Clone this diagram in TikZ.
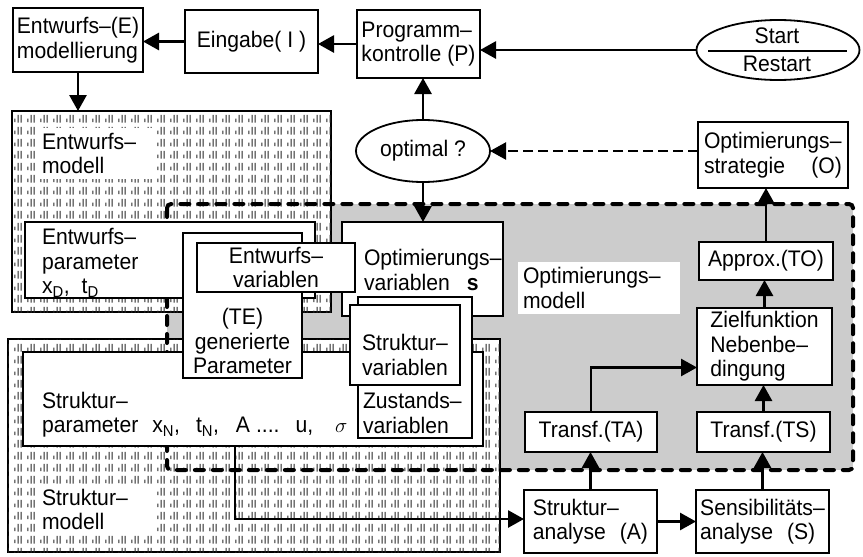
\documentclass[tikz,border=0pt]{standalone}
\usepackage{fontspec}
\setmainfont{Liberation Sans}[FakeStretch=0.94]
\usetikzlibrary{arrows.meta,shapes.geometric,patterns.meta,calc}

\tikzdeclarepattern{
  name=ticks,
  type=uncolored,
  bottom left={(0pt,0pt)},
  top right={(13pt,11.5pt)},
  tile size={(13pt,11.5pt)},
  code={
    \tikzset{line width=1.7pt}
    \draw (2pt,2pt) -- (2pt,5.5pt);
    \draw (5.5pt,1.5pt) -- (5.5pt,9.5pt);
    \draw (8.8pt,1.5pt) -- (8.8pt,9.5pt);
  }
}

\begin{document}
\begin{tikzpicture}[x=1pt,y=-1pt,
  every node/.style={font=\fontsize{22.5pt}{24.5pt}\selectfont, inner sep=0pt, outer sep=0pt},
  box/.style={draw, line width=1.8pt, fill=white, rectangle},
  arr/.style={line width=2.8pt, -{Triangle[length=16pt,width=17pt]}},
  darr/.style={line width=2.2pt, dash pattern=on 10pt off 5pt, -{Triangle[length=16pt,width=17pt]}},
  dashbord/.style={line width=4pt, dash pattern=on 9pt off 9pt, line cap=round, rounded corners=4pt},
  txbox/.style={draw, line width=2.2pt, fill=white, rectangle, postaction={pattern=ticks, pattern color=black!85}},
  lbl/.style={fill=white, align=left, inner xsep=5pt, inner ysep=5pt},
  txt/.style={align=left}
]
\useasboundingbox (0,0) rectangle (863,557);

% Optimierungsmodell region (gray)
\node[fill=black!20, minimum width=686pt, minimum height=266pt] (OM) at (510,337) {};

% textured models
\node[txbox, minimum width=319pt, minimum height=201pt] (EM) at (171.5,211.5) {};
\node[txbox, minimum width=492pt, minimum height=213pt] (SM) at (254,445.5) {};
\node[lbl, anchor=west, text width=108pt] (EMl) at (37,153.5) {Entwurfs–\\modell};
\node[lbl, anchor=west, text width=108pt] (SMl) at (37,509.5) {Struktur–\\modell};
\node[lbl, anchor=west, text width=152pt] (OMl) at (518,288) {Optimierungs–\\modell};

% dashed border of Optimierungsmodell
\draw[dashbord] (OM.north west) rectangle (OM.south east);

% inner boxes
\node[box, minimum width=290pt, minimum height=76pt] (EP) at (170,260) {};
\node[txt, anchor=west] (EPt) at (42,263) {Entwurfs–\\parameter\\x\textsubscript{D},\hspace{12pt}t\textsubscript{D}};
\node[box, minimum width=460pt, minimum height=94pt] (SP) at (253,399) {};
\node[txt, anchor=west] (SPt) at (42,414.5) {Struktur–\\parameter\hspace{14pt}x\textsubscript{N},\hspace{16pt}t\textsubscript{N},\hspace{17pt}A\hspace{6pt}....\hspace{16pt}u,\hspace{22pt}$\sigma$};
\node[box, minimum width=161pt, minimum height=94pt] (OV) at (422.5,269) {};
\node[txt, anchor=west] (OVt) at (364,270) {Optimierungs–\\variablen\hspace{17pt}\textbf{s}};
\node[box, minimum width=119pt, minimum height=145pt] (TE) at (242.5,305.5) {};
\node[align=center] (TEt) at (242.5,341) {(TE)\\generierte\\Parameter};
\node[box, align=center, minimum width=158pt, minimum height=49pt] (EV) at (276,267.5) {Entwurfs–\\variablen};
\node[box, minimum width=114pt, minimum height=141pt] (ZV) at (415,367.5) {};
\node[txt, anchor=west] (ZVt) at (363,413) {Zustands–\\variablen};
\node[box, minimum width=110pt, minimum height=80pt] (SV) at (405,345) {};
\node[align=center] (SVt) at (405,355) {Struktur–\\variablen};

% top row
\node[box, align=left, minimum width=130pt, minimum height=64pt] (E) at (78,40) {Entwurfs–(E)\\modellierung};
\node[box, minimum width=133pt, minimum height=63pt] (I) at (251.5,41.5) {Eingabe( I )};
\node[box, align=left, minimum width=123pt, minimum height=68pt] (P) at (418.5,44) {Programm–\\kontrolle\hspace{6pt}(P)};
\node[draw, ellipse, line width=1.8pt, fill=white, minimum width=163pt, minimum height=60pt] (start) at (778,50) {};
\node (st) at (777,36) {Start};
\node (rst) at (777,64) {Restart};
\draw[line width=1.6pt] ([xshift=-70pt,yshift=-1pt]start.center) -- ([xshift=69pt,yshift=-1pt]start.center);

\node[draw, ellipse, line width=1.8pt, fill=white, minimum width=134pt, minimum height=62pt] (opt) at (423,151) {optimal ?};
\node[box, align=left, text width=138pt, minimum width=150pt, minimum height=66pt] (O) at (773,155) {Optimierungs–\\strategie\hfill(O)};

% right column
\node[box, minimum width=134pt, minimum height=38pt] (Ap) at (766,261) {Approx.(TO)};
\node[box, align=left, minimum width=135pt, minimum height=77pt] (Z) at (764.5,346.5) {Zielfunktion\\Nebenbe–\\dingung};
\node[box, minimum width=133pt, minimum height=40pt] (TS) at (763.5,432) {Transf.(TS)};
\node[box, minimum width=132pt, minimum height=40pt] (TA) at (591,432) {Transf.(TA)};
\node[box, align=left, minimum width=133pt, minimum height=63pt] (A) at (590.5,521.5) {Struktur–\\analyse\hspace{14pt}(A)};
\node[box, align=left, minimum width=133pt, minimum height=63pt] (S) at (762.5,521.5) {Sensibilitäts–\\analyse\hspace{14pt}(S)};

% connectors
\draw[arr] (start.west) -- (start.west -| P.east);
\draw[arr] (P.west) -- (P.west -| I.east);
\draw[arr] (I.west) -- (I.west -| E.east);
\draw[arr] (E.south) -- (E.south |- EM.north);
\draw[arr] (opt.north) -- (opt.north |- P.south);
\draw[arr] (opt.south) -- (opt.south |- OV.north);
\draw[darr] (O.west |- opt.east) -- (opt.east);
\draw[arr] (Ap.north) -- (Ap.north |- O.south);
\draw[arr] (Z.north) -- (Z.north |- Ap.south);
\draw[arr] (TS.north) -- (TS.north |- Z.south);
\draw[arr] (TA.north) |- ([yshift=-21pt]Z.west);
\draw[arr] (A.north) -- (A.north |- TA.south);
\draw[arr] (S.north) -- (S.north |- TS.south);
\draw[arr] (A.east) -- (A.east -| S.west);
\draw[arr] ([xshift=-18pt]SP.south) |- ([yshift=2.5pt]A.west);
\end{tikzpicture}
\end{document}
